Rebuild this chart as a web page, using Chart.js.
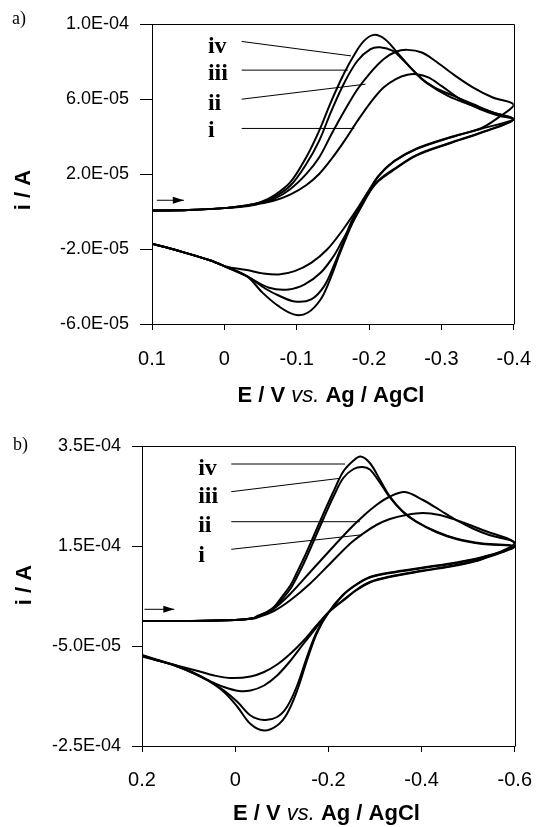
<!DOCTYPE html>
<html>
<head>
<meta charset="utf-8">
<script src="https://cdn.jsdelivr.net/npm/chart.js@4.4.1/dist/chart.umd.min.js"></script>
<style>
  html, body { margin: 0; padding: 0; background: #fff; }
  #page { position: relative; width: 548px; height: 827px; }
  canvas { position: absolute; left: 0; }
</style>
</head>
<body>
<div id="page">
  <canvas id="chartA" width="548" height="410" style="top:0"></canvas>
  <canvas id="chartB" width="548" height="417" style="top:410px"></canvas>
</div>
<script>
// ---- panel a : E in V, i in 1E-05 A ----
var xTicksA = [0.1, 0, -0.1, -0.2, -0.3, -0.4];
var xLabelsA = ['0.1', '0', '-0.1', '-0.2', '-0.3', '-0.4'];
var yTicksA = [10, 6, 2, -2, -6];
var yLabelsA = ['1.0E-04', '6.0E-05', '2.0E-05', '-2.0E-05', '-6.0E-05'];

var potA_iv = [0.10, 0.05, 0.00, -0.03, -0.05, -0.068, -0.091, -0.113, -0.131, -0.148, -0.166, -0.180, -0.193, -0.207, -0.222, -0.237, -0.255, -0.273, -0.291, -0.317, -0.344, -0.371, -0.40,
               -0.355, -0.311, -0.266, -0.235, -0.213, -0.200, -0.186, -0.173, -0.160, -0.146, -0.133, -0.115, -0.097, -0.075, -0.053, -0.031, -0.002, 0.02, 0.065, 0.10];
var curA_iv = [0.05, 0.08, 0.18, 0.32, 0.50, 0.84, 1.55, 2.88, 4.30, 5.90, 7.41, 8.39, 9.10, 9.42, 9.19, 8.57, 7.77, 7.06, 6.61, 6.17, 5.72, 5.28, 4.92,
               4.20, 3.63, 2.99, 2.24, 1.62, 1.00, 0.11, -0.96, -2.20, -3.63, -4.69, -5.40, -5.50, -5.05, -4.34, -3.45, -2.95, -2.60, -2.08, -1.72];

var potA_iii = [0.10, 0.05, 0.00, -0.03, -0.05, -0.068, -0.091, -0.113, -0.131, -0.148, -0.166, -0.184, -0.202, -0.215, -0.233, -0.246, -0.264, -0.282, -0.309, -0.335, -0.371, -0.40,
                -0.355, -0.311, -0.266, -0.235, -0.213, -0.200, -0.191, -0.177, -0.164, -0.151, -0.138, -0.120, -0.097, -0.075, -0.057, -0.031, -0.002, 0.02, 0.065, 0.10];
var curA_iii = [0.05, 0.08, 0.18, 0.32, 0.48, 0.75, 1.37, 2.52, 3.77, 5.37, 6.88, 8.04, 8.66, 8.76, 8.57, 8.12, 7.41, 6.79, 6.17, 5.76, 5.28, 4.92,
                4.22, 3.65, 3.02, 2.28, 1.66, 1.05, 0.46, -0.43, -1.67, -2.92, -3.98, -4.69, -4.80, -4.48, -4.12, -3.45, -2.95, -2.60, -2.08, -1.72];

var potA_ii = [0.10, 0.05, 0.00, -0.03, -0.05, -0.068, -0.091, -0.113, -0.131, -0.148, -0.166, -0.184, -0.202, -0.220, -0.237, -0.253, -0.273, -0.291, -0.317, -0.344, -0.371, -0.40,
               -0.38, -0.355, -0.311, -0.266, -0.235, -0.213, -0.200, -0.182, -0.164, -0.151, -0.133, -0.111, -0.089, -0.062, -0.031, -0.002, 0.02, 0.065, 0.10];
var curA_ii = [0.05, 0.08, 0.18, 0.30, 0.45, 0.66, 1.19, 1.99, 2.88, 4.12, 5.37, 6.52, 7.41, 8.12, 8.52, 8.62, 8.48, 8.04, 7.30, 6.61, 6.08, 5.69,
               5.05, 4.45, 3.95, 3.36, 2.70, 1.90, 1.00, -0.25, -1.49, -2.38, -3.27, -3.89, -4.16, -4.07, -3.45, -2.95, -2.60, -2.08, -1.72];

var potA_i = [0.10, 0.05, 0.00, -0.03, -0.05, -0.068, -0.091, -0.113, -0.131, -0.148, -0.166, -0.184, -0.202, -0.220, -0.237, -0.253, -0.266, -0.282, -0.300, -0.326, -0.353, -0.380, -0.40,
              -0.355, -0.311, -0.266, -0.235, -0.213, -0.200, -0.186, -0.164, -0.142, -0.120, -0.097, -0.075, -0.053, -0.031, -0.002, 0.02, 0.065, 0.10];
var curA_i = [0.05, 0.08, 0.18, 0.28, 0.42, 0.57, 0.90, 1.40, 2.00, 2.80, 3.77, 4.83, 5.81, 6.61, 7.06, 7.29, 7.32, 7.15, 6.70, 5.99, 5.46, 5.10, 4.92,
              4.41, 3.93, 3.34, 2.68, 1.88, 1.15, 0.28, -0.96, -2.03, -2.74, -3.18, -3.36, -3.30, -3.12, -2.93, -2.60, -2.08, -1.72];

var tagsA = ['iv', 'iii', 'ii', 'i'];
var tagPotA = 0.0227;
var tagCurA = [8.48, 6.99, 5.44, 3.95];
var leadA = [[[-0.024, 9.07], [-0.175, 8.30]], [[-0.024, 7.54], [-0.1707, 7.54]], [[-0.024, 5.99], [-0.195, 6.79]], [[-0.024, 4.43], [-0.1796, 4.43]]];
var arrowA = [[0.0933, 0.6], [0.056, 0.6]];

// ---- panel b : E in V, i in 1E-04 A ----
var xTicksB = [0.2, 0, -0.2, -0.4, -0.6];
var xLabelsB = ['0.2', '0', '-0.2', '-0.4', '-0.6'];
var yTicksB = [3.5, 1.5, -0.5, -2.5];
var yLabelsB = ['3.5E-04', '1.5E-04', '-5.0E-05', '-2.5E-04'];

var potB_iv = [0.20, 0.10, 0.00, -0.04, -0.06, -0.083, -0.100, -0.119, -0.133, -0.147, -0.168, -0.190, -0.211, -0.232, -0.254, -0.269, -0.289, -0.311, -0.332, -0.360, -0.389, -0.431, -0.474, -0.531, -0.60,
               -0.531, -0.474, -0.403, -0.332, -0.289, -0.261, -0.232, -0.200, -0.175, -0.154, -0.133, -0.111, -0.090, -0.062, -0.033, -0.005, 0.024, 0.059, 0.095, 0.130, 0.166, 0.20];
var curB_iv = [0.00, 0.00, 0.02, 0.06, 0.14, 0.28, 0.48, 0.72, 0.98, 1.25, 1.69, 2.16, 2.59, 2.99, 3.21, 3.29, 3.16, 2.82, 2.49, 2.19, 1.99, 1.79, 1.65, 1.55, 1.49,
               1.28, 1.17, 1.07, 0.97, 0.88, 0.74, 0.53, 0.17, -0.25, -0.79, -1.39, -1.86, -2.09, -2.19, -2.06, -1.72, -1.42, -1.19, -1.02, -0.89, -0.79, -0.69];

var potB_iii = [0.20, 0.10, 0.00, -0.04, -0.06, -0.083, -0.100, -0.119, -0.133, -0.147, -0.168, -0.190, -0.211, -0.232, -0.254, -0.273, -0.289, -0.311, -0.332, -0.360, -0.389, -0.431, -0.474, -0.531, -0.60,
                -0.531, -0.474, -0.403, -0.332, -0.289, -0.261, -0.232, -0.200, -0.175, -0.154, -0.133, -0.111, -0.090, -0.062, -0.033, -0.005, 0.024, 0.059, 0.095, 0.130, 0.166, 0.20];
var curB_iii = [0.00, 0.00, 0.02, 0.06, 0.13, 0.25, 0.43, 0.65, 0.89, 1.15, 1.59, 2.06, 2.49, 2.86, 3.04, 3.08, 3.03, 2.76, 2.47, 2.18, 1.98, 1.78, 1.64, 1.54, 1.48,
                1.27, 1.16, 1.06, 0.96, 0.87, 0.73, 0.52, 0.16, -0.22, -0.72, -1.29, -1.72, -1.92, -1.98, -1.89, -1.62, -1.39, -1.18, -1.01, -0.88, -0.78, -0.68];

var potB_ii = [0.20, 0.10, 0.00, -0.04, -0.0475, -0.083, -0.119, -0.161, -0.204, -0.247, -0.275, -0.303, -0.332, -0.364, -0.403, -0.439, -0.474, -0.510, -0.545, -0.60,
               -0.531, -0.474, -0.403, -0.332, -0.289, -0.261, -0.232, -0.200, -0.175, -0.147, -0.119, -0.090, -0.062, -0.033, -0.008, 0.024, 0.059, 0.095, 0.130, 0.166, 0.20];
var curB_ii = [0.00, 0.00, 0.02, 0.06, 0.10, 0.25, 0.55, 0.98, 1.42, 1.85, 2.10, 2.32, 2.49, 2.58, 2.42, 2.22, 2.02, 1.85, 1.72, 1.56,
               1.25, 1.12, 1.01, 0.89, 0.78, 0.63, 0.42, 0.17, -0.12, -0.45, -0.79, -1.09, -1.29, -1.39, -1.40, -1.32, -1.18, -1.02, -0.89, -0.79, -0.70];

var potB_i = [0.20, 0.10, 0.00, -0.04, -0.0475, -0.083, -0.119, -0.161, -0.204, -0.247, -0.275, -0.303, -0.332, -0.367, -0.403, -0.439, -0.474, -0.531, -0.60,
              -0.531, -0.474, -0.403, -0.332, -0.289, -0.261, -0.232, -0.200, -0.175, -0.147, -0.119, -0.090, -0.062, -0.033, 0.009, 0.045, 0.080, 0.130, 0.166, 0.20];
var curB_i = [0.00, 0.00, 0.02, 0.05, 0.07, 0.20, 0.42, 0.75, 1.15, 1.55, 1.75, 1.92, 2.04, 2.12, 2.16, 2.12, 2.02, 1.82, 1.54,
              1.24, 1.11, 1.00, 0.88, 0.77, 0.62, 0.41, 0.17, -0.085, -0.39, -0.65, -0.87, -1.02, -1.11, -1.14, -1.09, -1.00, -0.88, -0.79, -0.71];

var tagsB = ['iv', 'iii', 'ii', 'i'];
var tagPotB = 0.0795;
var tagCurB = [2.92, 2.354, 1.786, 1.186];
var leadB = [[[0.0084, 3.14], [-0.2356, 3.14]], [[0.0084, 2.586], [-0.225, 2.854]], [[0.0084, 1.986], [-0.2676, 1.986]], [[0.0084, 1.434], [-0.2676, 1.72]]];
var arrowB = [[0.1947, 0.234], [0.1307, 0.234]];

var sans = "'Liberation Sans', Arial, sans-serif";
var serif = "'Liberation Serif', 'Times New Roman', serif";

function toPoints(pot, cur) {
  return pot.map(function (e, k) { return { x: e, y: cur[k] }; });
}

function curveSet(pot, cur) {
  return { data: toPoints(pot, cur), showLine: true, borderColor: '#000', borderWidth: 2,
           pointRadius: 0, tension: 0.35, fill: false };
}

function thinSet(line) {
  return { data: line.map(function (p) { return { x: p[0], y: p[1] }; }), showLine: true,
           borderColor: '#000', borderWidth: 1, pointRadius: 0, tension: 0, fill: false };
}

// frame, titles, curve tags and scan arrow
var decor = {
  id: 'decor',
  afterDraw: function (chart, args, o) {
    var ctx = chart.ctx, a = chart.chartArea, sx = chart.scales.x, sy = chart.scales.y;
    ctx.save();
    ctx.strokeStyle = '#000';
    ctx.lineWidth = 1;
    ctx.beginPath();
    ctx.moveTo(Math.round(a.left) + 0.5, Math.round(a.top) + 0.5);
    ctx.lineTo(Math.round(a.right) + 0.5, Math.round(a.top) + 0.5);
    ctx.lineTo(Math.round(a.right) + 0.5, Math.round(a.bottom) + 0.5);
    ctx.stroke();

    ctx.fillStyle = '#000';
    ctx.textBaseline = 'alphabetic';
    ctx.textAlign = 'left';
    ctx.font = '18px ' + serif;
    ctx.fillText(o.panel, o.panelX, o.panelY);

    ctx.font = 'bold 24px ' + serif;
    o.tags.forEach(function (t, k) {
      ctx.fillText(t, sx.getPixelForValue(o.tagPot), sy.getPixelForValue(o.tagCur[k]));
    });

    // arrow head
    var p0x = sx.getPixelForValue(o.arrow[0][0]), p0y = sy.getPixelForValue(o.arrow[0][1]);
    var p1x = sx.getPixelForValue(o.arrow[1][0]), p1y = sy.getPixelForValue(o.arrow[1][1]);
    var ang = Math.atan2(p1y - p0y, p1x - p0x);
    ctx.beginPath();
    ctx.moveTo(p1x, p1y);
    ctx.lineTo(p1x - 11 * Math.cos(ang) + 3.5 * Math.sin(ang), p1y - 11 * Math.sin(ang) - 3.5 * Math.cos(ang));
    ctx.lineTo(p1x - 11 * Math.cos(ang) - 3.5 * Math.sin(ang), p1y - 11 * Math.sin(ang) + 3.5 * Math.cos(ang));
    ctx.closePath();
    ctx.fill();

    // y title
    ctx.save();
    ctx.translate(o.yTitleX, o.yTitleY);
    ctx.rotate(-Math.PI / 2);
    ctx.font = 'bold 22px ' + sans;
    ctx.textAlign = 'center';
    ctx.textBaseline = 'middle';
    ctx.fillText('i / A', 0, 0);
    ctx.restore();

    // x title with italic "vs."
    var parts = [['E / V ', 'bold 22px ' + sans], ['vs.', 'italic 22px ' + sans], [' Ag / AgCl', 'bold 22px ' + sans]];
    var total = 0;
    parts.forEach(function (p) { ctx.font = p[1]; total += ctx.measureText(p[0]).width; });
    var cx = (a.left + a.right) / 2 - 2 - total / 2;
    parts.forEach(function (p) {
      ctx.font = p[1];
      ctx.fillText(p[0], cx, o.xTitleY);
      cx += ctx.measureText(p[0]).width;
    });
    ctx.restore();
  }
};

function buildConfig(p) {
  var sets = [];
  p.curves.forEach(function (c) { sets.push(curveSet(c[0], c[1])); });
  p.leads.forEach(function (l) { sets.push(thinSet(l)); });
  sets.push(thinSet(p.decor.arrow));
  return {
    type: 'scatter',
    data: { datasets: sets },
    options: {
      responsive: false,
      animation: false,
      devicePixelRatio: 1,
      layout: { padding: { left: 0, right: p.padRight, top: p.padTop, bottom: 0 } },
      plugins: { legend: { display: false }, tooltip: { enabled: false }, decor: p.decor },
      scales: {
        x: {
          type: 'linear', reverse: true, min: p.xMin, max: p.xMax,
          afterBuildTicks: function (s) { s.ticks = p.xTicks.map(function (v) { return { value: v }; }); },
          afterFit: function (s) { s.height = p.xHeight; },
          ticks: {
            autoSkip: false, maxRotation: 0, padding: p.xPad, color: '#000',
            font: { family: sans, size: 20 },
            callback: function (v) { return p.xLabels[p.xTicks.indexOf(v)]; }
          },
          grid: { drawOnChartArea: false, tickLength: 6, color: '#000' },
          border: { color: '#000', width: 1 }
        },
        y: {
          type: 'linear', min: p.yMin, max: p.yMax,
          afterBuildTicks: function (s) { s.ticks = p.yTicks.map(function (v) { return { value: v }; }); },
          afterFit: function (s) { s.width = p.yWidth; },
          ticks: {
            autoSkip: false, padding: 11, color: '#000',
            font: { family: sans, size: 18 },
            callback: function (v) { return p.yLabels[p.yTicks.indexOf(v)]; }
          },
          grid: { drawOnChartArea: false, tickLength: p.yTick, color: '#000' },
          border: { color: '#000', width: 1 }
        }
      }
    },
    plugins: [decor]
  };
}

new Chart(document.getElementById('chartA'), buildConfig({
  curves: [[potA_iv, curA_iv], [potA_iii, curA_iii], [potA_ii, curA_ii], [potA_i, curA_i]],
  leads: leadA,
  xMin: -0.4, xMax: 0.1, xTicks: xTicksA, xLabels: xLabelsA,
  yMin: -6, yMax: 10, yTicks: yTicksA, yLabels: yLabelsA,
  padTop: 24, padRight: 21, yWidth: 152, xHeight: 86, xPad: 17, yTick: 12,
  decor: { panel: 'a)', panelX: 12, panelY: 24, tags: tagsA, tagPot: tagPotA, tagCur: tagCurA,
           arrow: arrowA, yTitleX: 24, yTitleY: 190, xTitleY: 402 }
}));

new Chart(document.getElementById('chartB'), buildConfig({
  curves: [[potB_iv, curB_iv], [potB_iii, curB_iii], [potB_ii, curB_ii], [potB_i, curB_i]],
  leads: leadB,
  xMin: -0.6, xMax: 0.2, xTicks: xTicksB, xLabels: xLabelsB,
  yMin: -2.5, yMax: 3.5, yTicks: yTicksB, yLabels: yLabelsB,
  padTop: 36, padRight: 31, yWidth: 142, xHeight: 81, xPad: 16, yTick: 10,
  decor: { panel: 'b)', panelX: 13, panelY: 40, tags: tagsB, tagPot: tagPotB, tagCur: tagCurB,
           arrow: arrowB, yTitleX: 25, yTitleY: 175, xTitleY: 410 }
}));
</script>
</body>
</html>
